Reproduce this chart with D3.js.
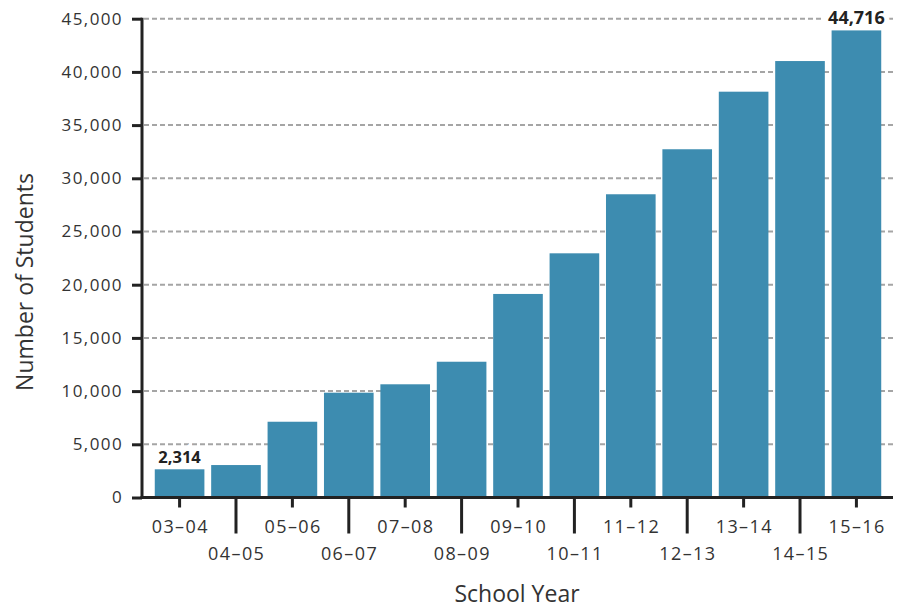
<!DOCTYPE html>
<html>
<head>
<meta charset="utf-8">
<script src="https://cdn.jsdelivr.net/npm/d3@7"></script>
<style>
    body { margin: 0; background: #fff; }
    svg text { font-family: "Open Sans", "Noto Sans", sans-serif; fill: #333; }
    .tick-label { font-weight: 400; }
    .value-label { font-weight: 700; fill: #222; }
</style>
</head>
<body>
<svg id="chart" width="924" height="616"></svg>
<script>
// DATA
var schoolYears = ["03–04", "04–05", "05–06", "06–07", "07–08", "08–09", "09–10",
                   "10–11", "11–12", "12–13", "13–14", "14–15", "15–16"];
var students = [2650, 3050, 7120, 9850, 10640, 12760, 19130,
                22950, 28500, 32730, 38140, 41020, 43900];
var yTicks = [0, 5000, 10000, 15000, 20000, 25000, 30000, 35000, 40000, 45000];
var valueLabels = [
    { year: "03–04", text: "2,314", size: 16.5 },
    { year: "15–16", text: "44,716", size: 18 }
];

var svg = d3.select("#chart");

// UI dimensions
var _left = 142;
var _right = 893;
var _top = 18.7;
var _bottom = 497.5;
var _barColor = "#3d8cb0";
var _axisColor = "#222";

var x = d3.scaleBand()
    .domain(schoolYears)
    .range([148, 888])
    .paddingInner(0.12)
    .paddingOuter(0.12);

var y = d3.scaleLinear()
    .domain([0, 45000])
    .range([_bottom, _top]);

var fmt = d3.format(",");

// gridlines (behind the bars)
svg.append("g").classed("grid", true)
    .selectAll("line")
    .data(yTicks.filter(function(d) { return d > 0; }))
    .enter()
    .append("line")
        .attr("x1", _left + 2)
        .attr("x2", _right)
        .attr("y1", function(d) { return y(d); })
        .attr("y2", function(d) { return y(d); })
        .attr("stroke", "#a5a5a5")
        .attr("stroke-width", 2)
        .attr("stroke-dasharray", "5,3");

// value labels (white halo hides the gridline behind them)
svg.append("g").classed("values", true)
    .selectAll("text")
    .data(valueLabels)
    .enter()
    .append("text")
        .classed("value-label", true)
        .attr("x", function(d) { return x(d.year) + x.bandwidth() / 2; })
        .attr("y", function(d) { return y(students[schoolYears.indexOf(d.year)]) - 6; })
        .attr("text-anchor", "middle")
        .attr("font-size", function(d) { return d.size; })
        .attr("stroke", "#fff")
        .attr("stroke-width", 10)
        .attr("paint-order", "stroke")
        .text(function(d) { return d.text; });

// bars
svg.append("g").classed("bars", true)
    .selectAll("rect")
    .data(schoolYears)
    .enter()
    .append("rect")
        .attr("x", function(d) { return x(d); })
        .attr("width", x.bandwidth())
        .attr("y", function(d, i) { return y(students[i]); })
        .attr("height", function(d, i) { return y(0) - y(students[i]) - 1.5; })
        .attr("fill", _barColor);

// y axis
var yAxis = d3.axisLeft(y)
    .tickValues(yTicks)
    .tickSize(10)
    .tickPadding(9)
    .tickFormat(fmt);

var gY = svg.append("g")
    .attr("transform", "translate(" + _left + ",0)")
    .call(yAxis);
gY.select(".domain").remove();
gY.selectAll(".tick line").attr("stroke", _axisColor).attr("stroke-width", 3);
gY.selectAll(".tick text")
    .classed("tick-label", true)
    .attr("font-size", 17)
    .attr("letter-spacing", 1.4)
    .attr("fill", "#333");

// x axis, alternating short / long ticks
var xAxis = d3.axisBottom(x)
    .tickSize(0)
    .tickPadding(0);

var gX = svg.append("g")
    .attr("transform", "translate(0," + _bottom + ")")
    .call(xAxis);
gX.select(".domain").remove();
gX.selectAll(".tick").each(function(d, i) {
    var tick = d3.select(this);
    var len = (i % 2 === 0) ? 10 : 36;
    tick.select("line")
        .attr("y2", len)
        .attr("stroke", _axisColor)
        .attr("stroke-width", 3);
    tick.select("text")
        .classed("tick-label", true)
        .attr("font-size", 18)
        .attr("letter-spacing", 1.4)
        .attr("fill", "#333")
        .attr("dy", null)
        .attr("x", 0.7)
        .attr("y", (i % 2 === 0) ? 35 : 62);
});

// axis lines
svg.append("line")
    .attr("x1", _left).attr("x2", _left)
    .attr("y1", _top - 1).attr("y2", _bottom + 1.5)
    .attr("stroke", _axisColor).attr("stroke-width", 3);
svg.append("line")
    .attr("x1", _left - 1.5).attr("x2", _right)
    .attr("y1", _bottom).attr("y2", _bottom)
    .attr("stroke", _axisColor).attr("stroke-width", 3);

// axis titles
svg.append("text")
    .attr("transform", "translate(33,282) rotate(-90)")
    .attr("text-anchor", "middle")
    .attr("font-size", 23)
    .text("Number of Students");

svg.append("text")
    .attr("x", 517)
    .attr("y", 602)
    .attr("text-anchor", "middle")
    .attr("font-size", 23)
    .text("School Year");
</script>
</body>
</html>
